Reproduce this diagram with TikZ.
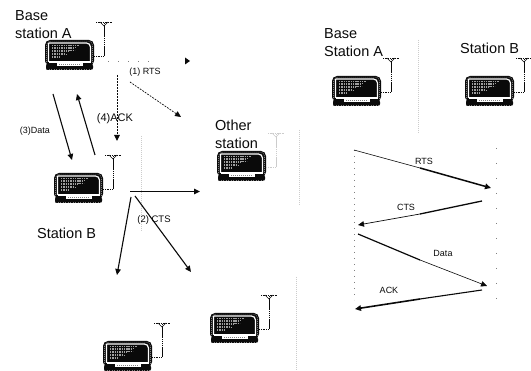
\documentclass[tikz,border=0pt]{standalone}
\usepackage{fontspec}
\setmainfont{Liberation Sans}
\usetikzlibrary{arrows.meta}
\definecolor{fog}{gray}{0.8}
\definecolor{ink}{gray}{0.04}
\tikzset{
  x=1pt,y=-1pt,
  big/.style={font=\fontsize{14.5}{16}\selectfont,text=ink,align=left,inner sep=0pt,anchor=west},
  small/.style={font=\fontsize{9}{10}\selectfont,text=ink,inner sep=0pt},
  head/.style={-{Triangle[length=6pt,width=5.5pt]}},
  wire/.style={draw=ink,line width=1.1pt,head},
  fat/.style={draw=ink,line width=1.6pt,head},
  thin/.style={draw=ink,line width=.6pt},
  dotwire/.style={draw=ink,line width=1pt,dash pattern=on 1.8pt off 1.2pt,head},
  faint/.style={draw=fog,line width=.9pt,dash pattern=on 1pt off 1pt},
  sparse/.style={draw=gray,line width=.7pt,dash pattern=on 1pt off 14pt},
  mast/.style={draw=ink},
  mastgray/.style={draw=fog},
  pics/station/.style={code={
    \fill[ink,rounded corners=5pt] (0,0) rectangle (49,26);
    \fill[ink,rounded corners=2pt] (1,24) rectangle (48,30);
    \draw[white,line width=1.2pt,rounded corners=4pt] (3.5,3) -- (45.5,3) -- (45.5,22) (3.5,22) -- (3.5,3);
    \draw[white,line width=1.2pt] (3.5,22) -- (45.5,22);
    \draw[gray,line width=.6pt,dash pattern=on 1pt off 1pt,rounded corners=4pt] (1.5,24) -- (1.5,1.2) -- (47.5,1.2) -- (47.5,24);
    \draw[gray,line width=.6pt,dash pattern=on 1pt off 1.5pt] (1,29.5) -- (48,29.5);
    \fill[white] (12,23) rectangle (38,26);
    \draw[gray,line width=1pt,dash pattern=on 1.2pt off .8pt] (14,25) -- (36,25);
    \foreach \yy/\xx in {6/34,7.5/32,9/28,10.5/30,12/24,13.5/20,15/22,16.5/15,18/14}
      \draw[gray!75,line width=1pt,dash pattern=on 1.4pt off .9pt] (7,\yy) -- (\xx,\yy);
    \draw[#1,line width=.9pt,dash pattern=on 1pt off .8pt] (49,16) -- (59,16);
    \draw[#1,line width=1pt,dash pattern=on 1.6pt off .5pt] (59,16) -- (59,-17);
    \draw[#1,line width=.7pt,dash pattern=on 1pt off .7pt] (51,-18) -- (67,-18);
    \draw[#1,line width=.5pt] (55,-18) -- (59,-14) -- (63,-18);
  }},
  pics/station/.default=ink
}
\begin{document}
\begin{tikzpicture}
\useasboundingbox (0,0) rectangle (531,371);
% faint vertical rules
\coordinate (r1a) at (141,136); \coordinate (r1b) at (141,231);
\coordinate (r2a) at (299,130); \coordinate (r2b) at (299,206);
\coordinate (r3a) at (296,277); \coordinate (r3b) at (296,371);
\coordinate (r4a) at (418,40);  \coordinate (r4b) at (418,134);
\draw[faint] (r1a) -- (r1b);
\draw[faint] (r2a) -- (r2b);
\draw[faint] (r3a) -- (r3b);
\draw[faint] (r4a) -- (r4b);
% stations
\pic at (45,40) {station};
\pic at (54,173) {station};
\pic at (217,151) {station=fog};
\pic at (210,313) {station};
\pic at (103,341) {station};
\pic at (332,76) {station};
\pic at (465,76) {station};
% labels
\node[big] (lA) at (15,24.5) {Base\\[1.5pt]station A};
\node[big] (lB) at (37,233) {Station B};
\node[big] (lO) at (215,134.5) {Other\\[1.5pt]station};
\node[big] (lRA) at (324,42.5) {Base\\[1.5pt]Station A};
\node[big] (lRB) at (460,48) {Station B};
\node[small] (t1) at (145,72) {(1) RTS};
\node[small,font=\fontsize{11}{12}\selectfont] (t4) at (115,119) {(4)ACK};
\node[small] (t3) at (35,131) {(3)Data};
\node[small,font=\fontsize{9.5}{10}\selectfont] (t2) at (154,220) {(2) CTS};
\node[small] (tr) at (424,161) {RTS};
\node[small] (tc) at (406,207) {CTS};
\node[small] (td) at (443,253) {Data};
\node[small] (ta) at (389,290) {ACK};
% left scene connectors
\coordinate (a1) at (108,61);  \coordinate (a2) at (190,61);  \coordinate (a3) at (150,61);
\coordinate (a4) at (185,57.5); \coordinate (a5) at (185,64.5);
\coordinate (b1) at (130,82);  \coordinate (b2) at (181,117);
\coordinate (c1) at (117,75);  \coordinate (c2) at (117,141);
\coordinate (d1) at (53,94);   \coordinate (d2) at (72,160);
\coordinate (e1) at (95,155);  \coordinate (e2) at (77,94);
\coordinate (f1) at (130,191.5); \coordinate (f2) at (200,191.5);
\coordinate (g1) at (131,197); \coordinate (g2) at (117,275);
\coordinate (h1) at (135,196); \coordinate (h2) at (191,272);
\draw[draw=gray,line width=.7pt,dash pattern=on 1pt off 9pt] (a1) -- (a3);
\fill[ink] (a2) -- (a4) -- (a5) -- cycle;
\draw[dotwire,line width=.7pt] (b1) -- (b2);
\draw[dotwire] (c1) -- (c2);
\draw[wire] (d1) -- (d2);
\draw[wire] (e1) -- (e2);
\draw[fat] (f1) -- (f2);
\draw[wire] (g1) -- (g2);
\draw[wire] (h1) -- (h2);
% timing diagram
\coordinate (ra) at (354,150); \coordinate (rm) at (420,168); \coordinate (rb) at (491,188);
\coordinate (ca) at (482,201); \coordinate (cm) at (420,214); \coordinate (cb) at (358,225);
\coordinate (da) at (358,234); \coordinate (dm) at (420,260); \coordinate (db) at (487,286);
\coordinate (aa) at (482,290); \coordinate (am) at (420,299); \coordinate (ab) at (355,309);
\coordinate (v1a) at (354,150); \coordinate (v1b) at (354,300);
\coordinate (v2a) at (496,148); \coordinate (v2b) at (496,300);
\draw[draw=gray,line width=.8pt,dash pattern=on 1pt off 5pt] (v1a) -- (v1b);
\draw[sparse] (v2a) -- (v2b);
\draw[thin] (ra) -- (rm);
\draw[fat,line width=1.5pt] (rm) -- (rb);
\draw[fat,line width=1.3pt,-] (ca) -- (cm);
\draw[wire,line width=.7pt] (cm) -- (cb);
\draw[fat,line width=1.2pt,-] (da) -- (dm);
\draw[wire,line width=.6pt] (dm) -- (db);
\draw[thin,line width=1.1pt] (aa) -- (am);
\draw[fat,line width=1.6pt] (am) -- (ab);
\end{tikzpicture}
\end{document}
